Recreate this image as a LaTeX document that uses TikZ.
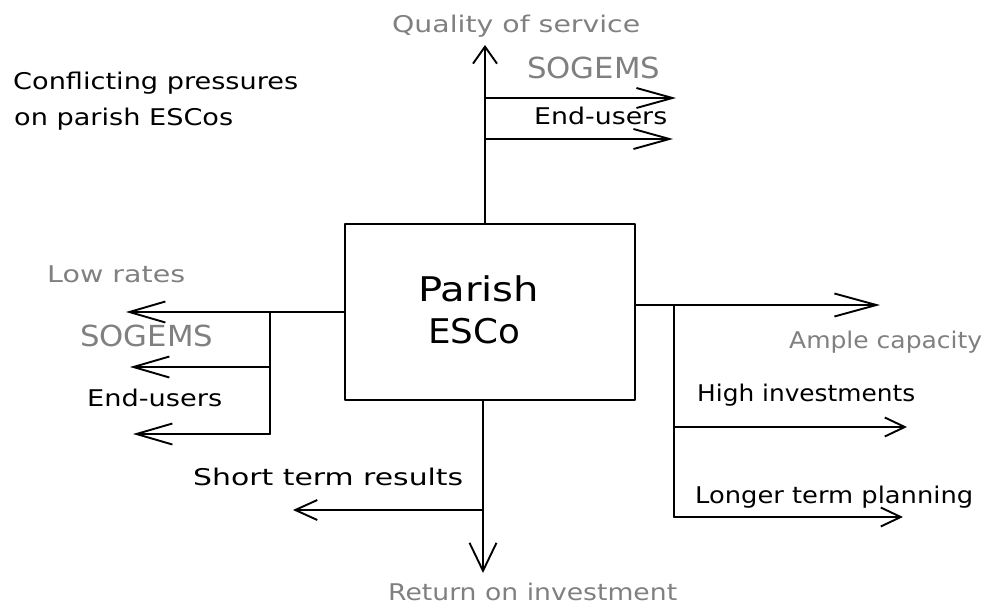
\documentclass[tikz,border=0pt]{standalone}
\usepackage{fontspec}
\usepackage{graphicx}
\usetikzlibrary{arrows.meta}
\newfontfamily\plotfont{DejaVu Sans}
\newcommand\fw[2]{\resizebox{#1pt}{\height}{#2}}
\tikzset{
  txt/.style={inner sep=0pt, anchor=base west, font=\plotfont\fontsize{23}{23}\selectfont},
  gtxt/.style={txt, text=black!50},
  bigtxt/.style={gtxt, font=\plotfont\fontsize{29}{29}\selectfont},
  boxtxt/.style={txt, font=\plotfont\fontsize{34}{34}\selectfont},
  ln/.style={line width=1.9pt, line cap=round, line join=round},
  barb/.style 2 args={ln, -{Straight Barb[length=#1pt, width=#2pt, line width=1.9pt]}},
}
\begin{document}
\begin{tikzpicture}[x=1pt,y=-1pt]
\useasboundingbox (0,0) rectangle (991,605);
% central box
\node[ln, draw, minimum width=290pt, minimum height=176pt, inner sep=0pt] (esco) at (490,312) {};
\node[boxtxt] (t-parish) at (418,301) {\fw{121}{Parish}};
\node[boxtxt] (t-esco) at (428,343) {\fw{92}{ESCo}};
% texts
\node[txt] (t-title1) at (13,89) {\fw{285}{Conflicting pressures}};
\node[txt] (t-title2) at (14,125) {\fw{219}{on parish ESCos}};
\node[gtxt] (t-quality) at (392,32) {\fw{248}{Quality of service}};
\node[bigtxt] (t-sog1) at (527,78) {\fw{133}{SOGEMS}};
\node[txt] (t-end1) at (534,124) {\fw{133}{End-users}};
\node[gtxt] (t-low) at (47,282) {\fw{138}{Low rates}};
\node[bigtxt] (t-sog2) at (80,346) {\fw{133}{SOGEMS}};
\node[txt] (t-end2) at (87,406) {\fw{135}{End-users}};
\node[gtxt] (t-ample) at (789,348) {\fw{193}{Ample capacity}};
\node[txt] (t-high) at (697,401) {\fw{218}{High investments}};
\node[txt] (t-long) at (695,503) {\fw{278}{Longer term planning}};
\node[txt] (t-short) at (193,485) {\fw{270}{Short term results}};
\node[gtxt] (t-return) at (388,600) {\fw{289}{Return on investment}};
% junction and tip coordinates
\coordinate (topTip) at (485,45);
\coordinate (topJ1) at (485,98);
\coordinate (topJ2) at (485,139);
\coordinate (topT1) at (676,98);
\coordinate (topT2) at (673,139);
\coordinate (leftTip) at (126,312);
\coordinate (leftJ) at (270,312);
\coordinate (leftJ1) at (270,367);
\coordinate (leftJ2) at (270,434);
\coordinate (leftT1) at (130,367);
\coordinate (leftT2) at (133,434);
\coordinate (rightTip) at (880,305);
\coordinate (rightJ) at (674,305);
\coordinate (rightJ1) at (674,427);
\coordinate (rightJ2) at (674,517);
\coordinate (rightT1) at (907,427);
\coordinate (rightT2) at (903,517);
\coordinate (botTip) at (483,573);
\coordinate (botJ) at (483,510);
\coordinate (botT) at (293,510);
% connectors
\draw[barb={17}{24}] (esco.north -| topTip) -- (topTip);
\draw[barb={36}{20}] (topJ1) -- (topT1);
\draw[barb={36}{20}] (topJ2) -- (topT2);
\draw[barb={36}{21}] (esco.west |- leftTip) -- (leftTip);
\draw[ln] (leftJ) -- (leftJ2);
\draw[barb={36}{21}] (leftJ1) -- (leftT1);
\draw[barb={36}{21}] (leftJ2) -- (leftT2);
\draw[barb={42}{23}] (esco.east |- rightTip) -- (rightTip);
\draw[ln] (rightJ) -- (rightJ2);
\draw[barb={20}{19}] (rightJ1) -- (rightT1);
\draw[barb={20}{19}] (rightJ2) -- (rightT2);
\draw[barb={28}{27}] (esco.south -| botTip) -- (botTip);
\draw[barb={22}{20}] (botJ) -- (botT);
\end{tikzpicture}
\end{document}
